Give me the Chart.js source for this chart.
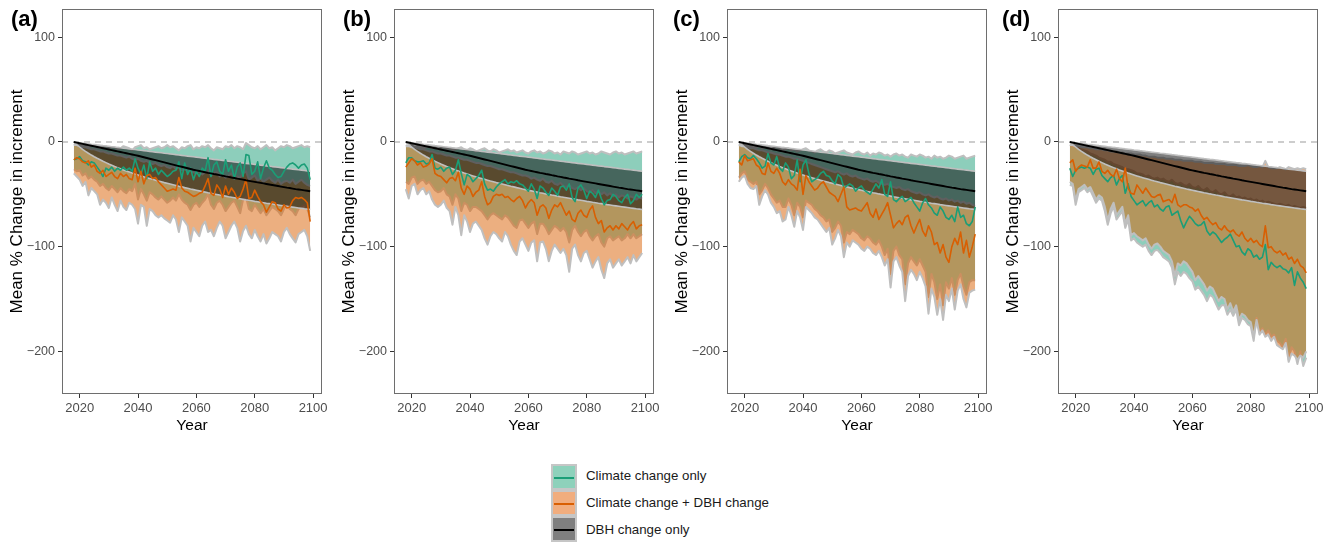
<!DOCTYPE html>
<html><head><meta charset="utf-8">
<script src="https://cdn.jsdelivr.net/npm/chart.js@4/dist/chart.umd.min.js"></script>
<style>
html,body{margin:0;padding:0;background:#fff;}
body{width:1338px;height:543px;overflow:hidden;position:relative;font-family:"Liberation Sans",Arial,Helvetica,sans-serif;}
.panel{position:absolute;top:0;width:330px;height:445px;}
.plab{position:absolute;top:6px;font-weight:bold;font-size:22px;line-height:26px;color:#000;}
.leg{position:absolute;left:551px;width:26px;height:26px;box-sizing:border-box;border:2px solid #c6c6c6;}
.leg i{position:absolute;left:1px;right:1px;top:11px;height:1.6px;display:block;}
.legt{position:absolute;left:586px;font-size:13.3px;color:#1a1a1a;line-height:16px;}
</style></head>
<body>
<div class="panel" style="left:0px"><canvas id="pa" width="330" height="445"></canvas></div>
<div class="panel" style="left:332px"><canvas id="pb" width="330" height="445"></canvas></div>
<div class="panel" style="left:665px"><canvas id="pc" width="330" height="445"></canvas></div>
<div class="panel" style="left:996px"><canvas id="pd" width="330" height="445"></canvas></div>
<div class="plab" style="left:11px">(a)</div>
<div class="plab" style="left:343px">(b)</div>
<div class="plab" style="left:673px">(c)</div>
<div class="plab" style="left:1002px">(d)</div>

<div class="leg" style="top:464px;background:#8ed1bb"><i style="background:#1b9e77"></i></div>
<div class="leg" style="top:490px;background:#f1ad7e"><i style="background:#d95f02"></i></div>
<div class="leg" style="top:516px;background:#7f7f7f"><i style="background:#000"></i></div>
<div class="legt" style="top:468px">Climate change only</div>
<div class="legt" style="top:495px">Climate change + DBH change</div>
<div class="legt" style="top:522px">DBH change only</div>

<script>
const years = [2018,2019,2020,2021,2022,2023,2024,2025,2026,2027,2028,2029,2030,2031,2032,2033,2034,2035,2036,2037,2038,2039,2040,2041,2042,2043,2044,2045,2046,2047,2048,2049,2050,2051,2052,2053,2054,2055,2056,2057,2058,2059,2060,2061,2062,2063,2064,2065,2066,2067,2068,2069,2070,2071,2072,2073,2074,2075,2076,2077,2078,2079,2080,2081,2082,2083,2084,2085,2086,2087,2088,2089,2090,2091,2092,2093,2094,2095,2096,2097,2098,2099];
const xTicks = [2020,2040,2060,2080,2100];
const yTicks = [-200,-100,0,100];

// DBH change only (same in every panel)
const dbhMean = [0,-0.6,-1.2,-1.8,-2.4,-3.0,-3.6,-4.2,-4.8,-5.4,-6.0,-6.6,-7.2,-7.8,-8.4,-9.0,-9.6,-10.2,-10.8,-11.4,-12.0,-12.6,-13.2,-13.9,-14.6,-15.3,-16.0,-16.7,-17.4,-18.1,-18.8,-19.5,-20.2,-20.9,-21.6,-22.3,-23.0,-23.7,-24.4,-25.1,-25.8,-26.5,-27.1,-27.7,-28.3,-28.9,-29.5,-30.0,-30.6,-31.1,-31.7,-32.2,-32.8,-33.3,-33.9,-34.4,-35.0,-35.5,-36.0,-36.6,-37.1,-37.6,-38.1,-38.6,-39.1,-39.6,-40.1,-40.6,-41.1,-41.6,-42.1,-42.6,-43.1,-43.6,-44.0,-44.5,-45.0,-45.4,-45.8,-46.2,-46.6,-47.0];
const dbhHigh = [0,-0.3,-0.7,-1.0,-1.4,-1.7,-2.1,-2.4,-2.8,-3.1,-3.5,-3.8,-4.1,-4.5,-4.8,-5.2,-5.5,-5.9,-6.2,-6.6,-6.9,-7.2,-7.6,-7.9,-8.3,-8.6,-9.0,-9.3,-9.7,-10.0,-10.3,-10.7,-11.0,-11.4,-11.7,-12.1,-12.4,-12.8,-13.1,-13.5,-13.8,-14.1,-14.5,-14.8,-15.2,-15.5,-15.9,-16.2,-16.6,-16.9,-17.2,-17.6,-17.9,-18.3,-18.6,-19.0,-19.3,-19.7,-20.0,-20.4,-20.7,-21.0,-21.4,-21.7,-22.1,-22.4,-22.8,-23.1,-23.5,-23.8,-24.1,-24.5,-24.8,-25.2,-25.5,-25.9,-26.2,-26.6,-26.9,-27.3,-27.6,-28.0];
const dbhLow = [0,-2.5,-4.8,-7.0,-9.0,-10.8,-12.5,-14.1,-15.6,-17.0,-18.4,-19.7,-21.0,-22.2,-23.4,-24.5,-25.6,-26.7,-27.7,-28.7,-29.7,-30.6,-31.5,-32.4,-33.3,-34.1,-34.9,-35.7,-36.5,-37.3,-38.0,-38.8,-39.5,-40.2,-40.9,-41.6,-42.3,-42.9,-43.6,-44.2,-44.9,-45.5,-46.1,-46.7,-47.3,-47.9,-48.5,-49.0,-49.6,-50.1,-50.7,-51.2,-51.7,-52.3,-52.8,-53.3,-53.8,-54.3,-54.8,-55.3,-55.7,-56.2,-56.7,-57.1,-57.6,-58.0,-58.5,-58.9,-59.3,-59.8,-60.2,-60.6,-61.0,-61.4,-61.8,-62.2,-62.6,-63.0,-63.4,-63.8,-64.1,-64.5];

// Panel (a)
const aGreenMean = [-17,-16,-14,-18,-19,-22,-19,-20,-24,-28,-33,-25,-27,-24,-28,-25,-27,-24,-27,-25,-28,-16,-25,-31,-22,-35,-19,-28,-25,-31,-27,-30,-33,-31,-28,-27,-19,-35,-20,-31,-25,-36,-28,-33,-25,-28,-15,-33,-22,-19,-28,-31,-17,-28,-22,-35,-24,-20,-33,-12,-13,-31,-28,-19,-35,-25,-18,-25,-27,-31,-34,-33,-28,-24,-21,-20,-22,-25,-22,-21,-25,-36];
const aGreenHigh = [-2,-3,-3,-4,-3,-5,-4,-4,-5,-6,-5,-4,-6,-5,-5,-7,-6,-4,-5,-6,-8,-5,-4,-3,-6,-5,-7,-6,-5,-4,-6,-5,-3,-5,-4,-6,-8,-5,-6,-4,-3,-7,-5,-6,-4,-5,-3,-6,-8,-5,-6,-7,-4,-5,-3,-6,-4,-5,-7,-1,-3,-5,-6,-4,-7,-5,-3,-6,-5,-8,-6,-4,-5,-3,-4,-6,-5,-4,-3,-5,-4,-5];
const aGreenLow = [-26,-28,-27,-32,-30,-35,-33,-36,-38,-42,-40,-44,-46,-42,-45,-48,-44,-47,-49,-45,-47,-40,-55,-45,-50,-56,-48,-50,-53,-55,-52,-55,-58,-56,-53,-56,-50,-55,-58,-60,-65,-60,-58,-62,-58,-55,-50,-60,-64,-58,-56,-60,-66,-62,-58,-56,-62,-68,-55,-52,-64,-66,-60,-64,-68,-64,-70,-66,-62,-64,-66,-70,-64,-60,-64,-66,-70,-64,-62,-60,-64,-72];
const aOrangeMean = [-17,-15,-16,-19,-20,-18,-24,-22,-28,-30,-27,-33,-31,-29,-33,-35,-30,-33,-31,-35,-36,-25,-38,-28,-40,-32,-31,-35,-34,-38,-41,-44,-47,-46,-45,-46,-34,-44,-47,-48,-50,-52,-51,-49,-48,-42,-35,-49,-51,-41,-45,-53,-42,-50,-44,-48,-54,-52,-45,-36,-54,-53,-46,-52,-57,-60,-67,-62,-57,-58,-64,-66,-60,-63,-62,-56,-53,-54,-53,-55,-58,-76];
const aOrangeHigh = [-3,-3,-4,-5,-5,-6,-7,-7,-8,-9,-9,-10,-11,-11,-12,-13,-13,-14,-15,-14,-16,-17,-16,-18,-19,-18,-20,-21,-20,-22,-23,-22,-24,-25,-23,-26,-24,-27,-26,-28,-27,-29,-30,-28,-31,-29,-27,-32,-30,-29,-33,-31,-34,-32,-30,-35,-33,-34,-30,-28,-36,-34,-32,-37,-35,-38,-36,-34,-37,-39,-36,-40,-38,-37,-39,-36,-40,-38,-36,-39,-41,-42];
const aOrangeLow = [-30,-33,-36,-42,-38,-51,-44,-47,-50,-60,-55,-58,-63,-53,-60,-66,-56,-62,-65,-58,-60,-64,-78,-60,-62,-80,-64,-66,-70,-72,-70,-73,-75,-77,-70,-74,-86,-72,-76,-80,-95,-82,-86,-90,-80,-76,-86,-84,-90,-82,-76,-80,-92,-86,-80,-76,-82,-95,-85,-80,-88,-92,-84,-90,-95,-88,-97,-92,-86,-88,-90,-95,-86,-82,-88,-92,-96,-88,-86,-84,-90,-104];

// Panel (b)
const bGreenMean = [-20,-15,-15,-18,-19,-19,-18,-21,-20,-12,-25,-26,-24,-28,-25,-24,-31,-27,-17,-30,-41,-31,-33,-38,-35,-32,-27,-40,-46,-45,-47,-43,-40,-38,-36,-40,-38,-39,-37,-40,-41,-44,-47,-40,-45,-54,-42,-44,-48,-51,-44,-47,-51,-43,-42,-46,-40,-53,-57,-44,-41,-46,-54,-47,-49,-53,-46,-54,-60,-56,-55,-50,-52,-56,-58,-53,-50,-59,-56,-50,-53,-50];
const bGreenHigh = [-3,-4,-3,-5,-4,-5,-6,-5,-4,-6,-5,-7,-6,-5,-7,-6,-8,-7,-6,-5,-7,-8,-6,-7,-9,-8,-7,-6,-8,-9,-7,-8,-10,-9,-8,-7,-9,-8,-10,-9,-8,-10,-11,-9,-8,-10,-9,-11,-10,-8,-9,-11,-10,-12,-9,-10,-11,-9,-10,-12,-11,-10,-9,-11,-10,-12,-11,-9,-10,-11,-12,-10,-9,-11,-10,-12,-11,-10,-9,-11,-10,-9];
const bGreenLow = [-38,-40,-34,-33,-40,-37,-36,-40,-38,-42,-46,-48,-47,-44,-50,-52,-60,-50,-54,-66,-58,-60,-66,-62,-62,-64,-66,-70,-74,-70,-68,-70,-72,-74,-70,-72,-76,-80,-82,-75,-74,-78,-82,-78,-76,-88,-78,-78,-82,-88,-84,-80,-82,-85,-82,-86,-96,-84,-80,-86,-90,-86,-84,-90,-94,-90,-88,-96,-100,-92,-90,-94,-92,-90,-94,-92,-88,-92,-88,-92,-90,-88];
const bOrangeMean = [-24,-20,-16,-18,-22,-20,-24,-23,-21,-16,-30,-32,-33,-36,-39,-35,-34,-37,-29,-44,-50,-42,-45,-52,-48,-46,-38,-52,-60,-58,-52,-50,-51,-50,-53,-52,-55,-57,-54,-52,-56,-63,-58,-55,-58,-70,-62,-60,-63,-73,-65,-60,-62,-58,-64,-70,-66,-74,-76,-68,-65,-70,-72,-65,-61,-72,-78,-75,-86,-82,-80,-84,-80,-83,-78,-81,-84,-79,-76,-83,-80,-79];
const bOrangeHigh = [-4,-4,-5,-5,-6,-7,-7,-8,-9,-9,-10,-11,-11,-12,-13,-13,-14,-15,-15,-16,-17,-17,-18,-19,-20,-20,-21,-22,-23,-23,-24,-25,-26,-26,-27,-28,-29,-29,-30,-31,-32,-32,-33,-35,-34,-36,-37,-35,-38,-39,-37,-40,-41,-39,-42,-43,-41,-44,-45,-43,-46,-44,-47,-48,-46,-49,-47,-50,-48,-51,-49,-52,-50,-53,-51,-52,-54,-52,-53,-55,-53,-54];
const bOrangeLow = [-45,-54,-42,-40,-50,-46,-44,-50,-47,-55,-60,-62,-60,-56,-63,-66,-79,-62,-70,-89,-70,-76,-86,-78,-76,-80,-84,-92,-98,-90,-86,-88,-92,-95,-86,-90,-98,-104,-108,-95,-92,-98,-104,-96,-94,-114,-96,-95,-102,-114,-104,-98,-102,-106,-102,-108,-124,-102,-98,-108,-114,-106,-104,-112,-120,-114,-110,-122,-130,-116,-112,-120,-116,-112,-118,-114,-110,-116,-108,-114,-110,-106];

// Panel (c)
const cGreenMean = [-19,-14,-12,-15,-16,-13,-16,-20,-25,-23,-11,-20,-22,-14,-25,-28,-20,-24,-35,-32,-17,-38,-22,-17,-30,-38,-36,-34,-30,-28,-32,-33,-37,-40,-31,-34,-44,-42,-40,-42,-47,-44,-42,-46,-48,-50,-45,-40,-44,-36,-50,-52,-38,-55,-57,-54,-52,-57,-55,-53,-58,-62,-66,-58,-54,-60,-63,-68,-70,-62,-66,-72,-74,-70,-76,-62,-72,-70,-78,-80,-76,-62];
const cGreenHigh = [-2,-3,-3,-4,-4,-5,-5,-4,-6,-5,-6,-7,-6,-5,-7,-8,-7,-6,-8,-7,-9,-8,-7,-6,-8,-9,-10,-8,-7,-9,-10,-8,-9,-11,-10,-9,-8,-10,-11,-12,-10,-9,-11,-12,-10,-13,-11,-12,-10,-11,-13,-12,-14,-12,-11,-13,-12,-14,-15,-12,-13,-14,-12,-13,-15,-14,-16,-13,-15,-14,-16,-15,-13,-14,-16,-15,-14,-13,-16,-15,-14,-13];
const cGreenLow = [-34,-30,-28,-36,-38,-40,-38,-50,-46,-40,-44,-50,-54,-58,-56,-62,-62,-54,-60,-70,-58,-62,-72,-56,-58,-60,-64,-66,-70,-72,-76,-74,-86,-82,-76,-80,-96,-86,-88,-84,-86,-88,-92,-94,-90,-92,-96,-98,-94,-100,-108,-102,-126,-104,-100,-108,-112,-136,-116,-110,-114,-118,-112,-118,-124,-148,-126,-134,-150,-136,-156,-134,-140,-130,-146,-132,-126,-138,-146,-134,-132,-132];
const cOrangeMean = [-19,-22,-13,-18,-17,-16,-22,-24,-30,-31,-20,-28,-30,-25,-30,-38,-41,-36,-40,-42,-46,-26,-50,-32,-38,-42,-46,-44,-40,-38,-43,-48,-50,-52,-57,-50,-43,-62,-65,-64,-63,-65,-66,-62,-58,-68,-72,-64,-74,-69,-64,-58,-70,-82,-78,-75,-79,-72,-70,-80,-87,-80,-74,-85,-90,-80,-86,-98,-96,-106,-98,-110,-115,-100,-92,-98,-86,-106,-94,-110,-100,-88];
const cOrangeHigh = [-3,-4,-4,-5,-6,-6,-7,-8,-8,-9,-10,-10,-11,-12,-12,-13,-14,-14,-15,-16,-16,-17,-18,-19,-20,-21,-22,-23,-24,-25,-26,-27,-28,-29,-28,-30,-31,-30,-32,-33,-32,-34,-35,-36,-35,-37,-38,-37,-39,-40,-41,-40,-42,-43,-44,-43,-45,-46,-45,-47,-48,-49,-48,-50,-51,-50,-52,-53,-52,-54,-55,-54,-56,-55,-57,-56,-58,-57,-59,-58,-60,-61];
const cOrangeLow = [-38,-34,-32,-40,-44,-45,-42,-60,-52,-46,-50,-58,-62,-68,-66,-76,-74,-62,-70,-81,-66,-72,-84,-62,-65,-68,-72,-74,-78,-82,-86,-82,-98,-92,-84,-90,-110,-96,-100,-94,-96,-98,-102,-104,-100,-102,-106,-108,-104,-110,-118,-112,-139,-114,-110,-118,-124,-152,-128,-122,-126,-132,-124,-130,-138,-164,-140,-148,-165,-150,-170,-146,-152,-140,-160,-142,-136,-150,-158,-144,-142,-141];

// Panel (d)
const dGreenMean = [-25,-33,-27,-25,-24,-25,-24,-25,-31,-26,-25,-32,-35,-38,-34,-32,-41,-35,-32,-49,-40,-52,-56,-60,-58,-56,-61,-58,-56,-62,-60,-64,-66,-62,-61,-70,-68,-66,-75,-82,-76,-71,-74,-78,-80,-79,-76,-85,-89,-86,-88,-92,-96,-93,-91,-88,-94,-100,-99,-105,-108,-102,-104,-110,-108,-112,-110,-98,-122,-115,-118,-120,-118,-121,-122,-125,-120,-137,-124,-130,-134,-140];
const dGreenHigh = [-3,-4,-4,-6,-7,-8,-9,-11,-12,-13,-15,-16,-17,-19,-19,-21,-22,-23,-24,-26,-26,-27,-28,-30,-30,-31,-33,-32,-34,-35,-34,-36,-35,-37,-38,-36,-39,-40,-39,-41,-42,-40,-43,-44,-42,-45,-46,-44,-47,-48,-46,-49,-50,-48,-51,-52,-50,-53,-52,-54,-53,-55,-54,-56,-55,-57,-56,-58,-57,-58,-59,-60,-59,-60,-61,-60,-62,-61,-62,-63,-62,-63];
const dGreenLow = [-41,-42,-60,-48,-46,-44,-48,-46,-52,-58,-54,-56,-66,-79,-68,-62,-74,-70,-66,-82,-74,-94,-92,-96,-98,-100,-98,-104,-108,-104,-103,-106,-110,-112,-114,-120,-136,-124,-128,-124,-126,-130,-133,-141,-138,-142,-146,-152,-146,-148,-154,-160,-156,-156,-165,-160,-166,-160,-175,-168,-170,-174,-176,-190,-168,-182,-178,-184,-180,-186,-184,-190,-192,-196,-188,-208,-196,-200,-212,-200,-214,-206];
const dOrangeMean = [-20,-17,-28,-24,-22,-23,-24,-17,-25,-25,-19,-28,-30,-27,-31,-33,-26,-35,-38,-25,-44,-49,-50,-41,-45,-49,-44,-48,-52,-53,-51,-50,-57,-56,-55,-58,-50,-60,-62,-60,-60,-62,-63,-66,-64,-70,-74,-72,-76,-79,-77,-82,-84,-80,-84,-86,-84,-88,-90,-86,-92,-95,-92,-96,-94,-98,-100,-80,-101,-100,-104,-106,-104,-108,-106,-112,-110,-116,-112,-118,-120,-125];
const dOrangeHigh = [-3,-3,-4,-4,-5,-5,-5,-6,-6,-7,-7,-7,-8,-8,-9,-9,-9,-10,-10,-11,-11,-11,-12,-12,-12,-13,-13,-14,-14,-14,-15,-15,-15,-16,-16,-16,-17,-17,-17,-18,-18,-18,-18,-19,-19,-19,-20,-20,-20,-20,-21,-21,-21,-21,-22,-22,-22,-22,-23,-23,-23,-22,-23,-24,-24,-23,-24,-18,-24,-25,-25,-25,-24,-25,-26,-24,-25,-26,-25,-26,-25,-26];
const dOrangeLow = [-38,-40,-56,-45,-43,-41,-45,-43,-49,-55,-51,-53,-62,-75,-64,-58,-70,-66,-62,-78,-70,-89,-87,-90,-92,-94,-92,-98,-102,-98,-97,-100,-104,-106,-108,-114,-128,-116,-118,-114,-116,-120,-124,-132,-128,-132,-136,-142,-138,-140,-146,-152,-148,-150,-160,-154,-162,-156,-170,-164,-166,-170,-172,-186,-170,-184,-180,-186,-184,-190,-186,-194,-196,-198,-192,-210,-202,-204,-208,-204,-206,-200];

const X_MIN = 2013.95, X_MAX = 2103.05, Y_MIN = -240.7, Y_MAX = 127;
const FONT = '"Liberation Sans", Arial, Helvetica, sans-serif';
const OUTLINE = '#bfbfbf';
const GREEN = '#1b9e77', ORANGE = '#d95f02';

const pts = arr => arr.map((v, i) => ({x: years[i], y: v}));

const panelBorder = {
  id: 'panelBorder',
  afterDraw(chart) {
    const {ctx, chartArea: a} = chart;
    ctx.save();
    ctx.strokeStyle = '#6e6e6e';
    ctx.lineWidth = 1;
    const l = Math.round(a.left) + 0.5, t = Math.round(a.top) + 0.5;
    const r = Math.round(a.right) - 0.5, b = Math.round(a.bottom) - 0.5;
    ctx.strokeRect(l, t, r - l, b - t);
    ctx.restore();
  }
};

function makePanel(id, g, gLo, gHi, o, oLo, oHi) {
  const datasets = [
    {label: 'zero', data: [{x: X_MIN, y: 0}, {x: X_MAX, y: 0}], borderColor: '#bdbdbd', borderWidth: 1.4, borderDash: [6, 5], fill: false, order: 100},
    {label: 'gLow', data: pts(gLo), borderColor: OUTLINE, borderWidth: 2, fill: false, order: 94},
    {label: 'gHigh', data: pts(gHi), borderColor: OUTLINE, borderWidth: 2, fill: 1, backgroundColor: 'rgba(27,158,119,0.5)', order: 95},
    {label: 'oLow', data: pts(oLo), borderColor: OUTLINE, borderWidth: 2, fill: false, order: 84},
    {label: 'oHigh', data: pts(oHi), borderColor: OUTLINE, borderWidth: 2, fill: 3, backgroundColor: 'rgba(217,95,2,0.5)', order: 85},
    {label: 'dLow', data: pts(dbhLow), borderColor: OUTLINE, borderWidth: 1.6, fill: false, order: 74},
    {label: 'dHigh', data: pts(dbhHigh), borderColor: OUTLINE, borderWidth: 1.6, fill: 5, backgroundColor: 'rgba(0,0,0,0.5)', order: 75},
    {label: 'Climate change only', data: pts(g), borderColor: GREEN, borderWidth: 1.6, fill: false, order: 3},
    {label: 'Climate change + DBH change', data: pts(o), borderColor: ORANGE, borderWidth: 1.6, fill: false, order: 2},
    {label: 'DBH change only', data: pts(dbhMean), borderColor: '#000', borderWidth: 1.9, fill: false, order: 1}
  ];
  new Chart(document.getElementById(id), {
    type: 'line',
    data: {datasets},
    plugins: [panelBorder],
    options: {
      responsive: false,
      devicePixelRatio: 1,
      animation: false,
      events: [],
      layout: {padding: {left: 0, right: 8, top: 9, bottom: 0}},
      elements: {point: {radius: 0, hoverRadius: 0}, line: {tension: 0, borderJoinStyle: 'round'}},
      plugins: {legend: {display: false}, tooltip: {enabled: false}, filler: {propagate: false}},
      scales: {
        x: {
          type: 'linear', min: X_MIN, max: X_MAX,
          afterBuildTicks: s => { s.ticks = xTicks.map(v => ({value: v})); },
          afterFit: s => { s.height = 51; s.paddingLeft = 0; s.paddingRight = 0; },
          border: {display: false},
          grid: {display: true, drawOnChartArea: false, drawTicks: true, tickLength: 4, color: '#333', tickColor: '#333', tickWidth: 1},
          ticks: {color: '#4d4d4d', padding: 3, maxRotation: 0, autoSkip: false, font: {family: FONT, size: 13}, callback: v => String(v)},
          title: {display: true, text: 'Year', color: '#000', font: {family: FONT, size: 15.5}, padding: {top: 0, bottom: 10}}
        },
        y: {
          type: 'linear', min: Y_MIN, max: Y_MAX,
          afterBuildTicks: s => { s.ticks = yTicks.map(v => ({value: v})); },
          afterFit: s => { s.width = 62; s.paddingTop = 0; s.paddingBottom = 0; },
          border: {display: false},
          grid: {display: true, drawOnChartArea: false, drawTicks: true, tickLength: 4, color: '#333', tickColor: '#333', tickWidth: 1},
          ticks: {color: '#4d4d4d', padding: 3, autoSkip: false, font: {family: FONT, size: 12.5}, callback: v => (v < 0 ? '\u2212' + Math.abs(v) : String(v))},
          title: {display: true, text: 'Mean % Change in increment', color: '#000', font: {family: FONT, size: 17}, padding: {top: 7, bottom: 0}}
        }
      }
    }
  });
}

makePanel('pa', aGreenMean, aGreenLow, aGreenHigh, aOrangeMean, aOrangeLow, aOrangeHigh);
makePanel('pb', bGreenMean, bGreenLow, bGreenHigh, bOrangeMean, bOrangeLow, bOrangeHigh);
makePanel('pc', cGreenMean, cGreenLow, cGreenHigh, cOrangeMean, cOrangeLow, cOrangeHigh);
makePanel('pd', dGreenMean, dGreenLow, dGreenHigh, dOrangeMean, dOrangeLow, dOrangeHigh);
</script>
</body></html>
